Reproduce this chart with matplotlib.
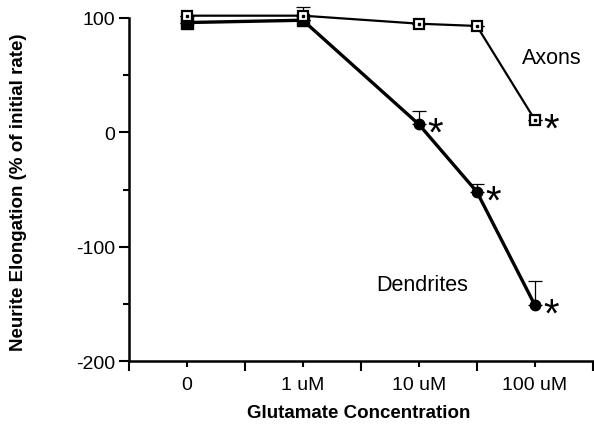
import matplotlib.pyplot as plt
import numpy as np

# x positions on a log-like axis: 0, 1 uM, 10 uM, 30 uM, 100 uM
conc_pos = [0, 1, 2, 2.5, 3]
tick_pos = [0, 1, 2, 3]
tick_labels = ['0', '1 uM', '10 uM', '100 uM']

axons = [102, 102, 95, 93, 11]
axons_err = [0, 8, 0, 0, 0]
dendrites = [96, 98, 7, -52, -151]
dendrites_err = [0, 0, 12, 7, 21]
signif_axons = [False, False, False, False, True]
signif_dendrites = [False, False, True, True, True]

plt.rcParams['font.family'] = ['Liberation Sans', 'DejaVu Sans']
plt.rcParams['axes.unicode_minus'] = False

fig = plt.figure(figsize=(5.94, 4.31), dpi=100)
ax = fig.add_axes([0.217, 0.160, 0.781, 0.796])

# error bars (upper only)
ax.errorbar(conc_pos, axons, yerr=[np.zeros(len(axons)), axons_err], fmt='none',
            ecolor='black', elinewidth=0.9, capsize=5, capthick=0.9, zorder=2,
            clip_on=False)
ax.errorbar(conc_pos, dendrites, yerr=[np.zeros(len(dendrites)), dendrites_err], fmt='none',
            ecolor='black', elinewidth=0.9, capsize=5, capthick=0.9, zorder=2,
            clip_on=False)

# dendrites: filled squares at control points, filled circles after
ax.plot(conc_pos, dendrites, color='black', lw=2.4, zorder=3, clip_on=False)
ax.plot(conc_pos[:2], dendrites[:2], 's', color='black', ms=8, zorder=4, clip_on=False)
ax.plot(conc_pos[2:], dendrites[2:], 'o', color='black', ms=7.5, zorder=4, clip_on=False)

# axons: open squares with a small centre dot
ax.plot(conc_pos, axons, color='black', lw=1.6, zorder=3, clip_on=False)
ax.plot(conc_pos, axons, 's', mfc='white', mec='black', mew=1.6, ms=7.5, zorder=5,
        clip_on=False)
ax.plot(conc_pos, axons, 's', color='black', ms=1.5, zorder=6, clip_on=False)

# significance asterisks
for x, y, s in zip(conc_pos, axons, signif_axons):
    if s:
        ax.annotate('*', (x, y), xytext=(6, -7), textcoords='offset points',
                    fontsize=29, ha='left', va='center')
for x, y, s in zip(conc_pos, dendrites, signif_dendrites):
    if s:
        ax.annotate('*', (x, y), xytext=(6, -7), textcoords='offset points',
                    fontsize=29, ha='left', va='center')

ax.text(3.15, 65, 'Axons', fontsize=15.5, ha='center', va='center')
ax.text(2.03, -133, 'Dendrites', fontsize=15.5, ha='center', va='center')

ax.set_xlim(-0.5, 3.5)
ax.set_ylim(-200, 100)

ax.set_xticks([-0.5, 0.5, 1.5, 2.5, 3.5])
ax.set_xticklabels([])
ax.set_xticks(tick_pos, minor=True)
ax.set_xticklabels(tick_labels, minor=True)
ax.tick_params(axis='x', which='major', length=7, width=1.5, direction='out')
ax.tick_params(axis='x', which='minor', length=4, width=1.5, direction='out',
               labelsize=14, pad=7)

ax.set_yticks([-200, -100, 0, 100])
ax.set_yticks([-150, -50, 50], minor=True)
ax.tick_params(axis='y', which='major', length=7, width=1.5, labelsize=14, pad=3)
ax.tick_params(axis='y', which='minor', length=4, width=1.5)

for side in ['top', 'right']:
    ax.spines[side].set_visible(False)
for side in ['left', 'bottom']:
    ax.spines[side].set_linewidth(1.8)

ax.set_xlabel('Glutamate Concentration', fontsize=13.5, fontweight='bold')
ax.xaxis.set_label_coords(0.496, -0.125)
ax.set_ylabel('Neurite Elongation (% of initial rate)', fontsize=13.5,
              fontweight='bold', va='center')
ax.yaxis.set_label_coords(-0.239, 0.496)

fig.savefig('out.png', dpi=100)
plt.close(fig)
